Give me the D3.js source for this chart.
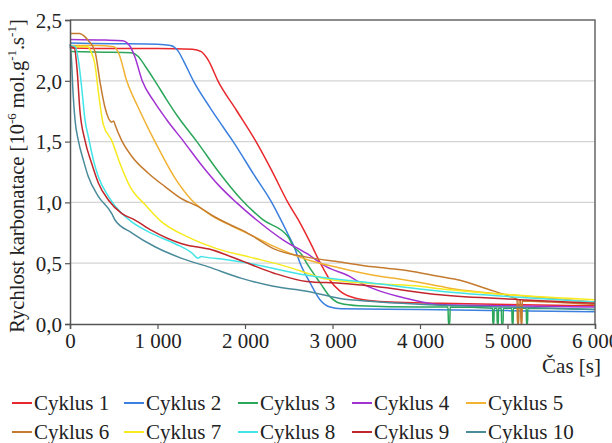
<!DOCTYPE html>
<html>
<head>
<meta charset="utf-8">
<script src="https://cdn.jsdelivr.net/npm/d3@7"></script>
<style>
  body { margin: 0; background: #fff; }
</style>
</head>
<body>
<div id="chart"></div>
<script>
// values: [time s, rate]
const cyklus1 = [[0,2.27],[500,2.265],[1000,2.265],[1400,2.26],[1500,2.24],[1580,2.17],[1690,2.0],[1900,1.76],[2126,1.5],[2300,1.27],[2490,1.0],[2630,0.83],[2780,0.62],[2840,0.53],[2900,0.45],[2971,0.36],[3086,0.27],[3276,0.21],[3657,0.18],[4229,0.17],[5000,0.16],[6000,0.15]];
const cyklus2 = [[0,2.31],[500,2.305],[1000,2.30],[1150,2.29],[1230,2.25],[1300,2.16],[1410,2.0],[1600,1.78],[1750,1.62],[1865,1.5],[2100,1.23],[2305,1.0],[2400,0.87],[2490,0.74],[2570,0.62],[2630,0.5],[2743,0.34],[2857,0.2],[2971,0.14],[3100,0.125],[4000,0.12],[5000,0.11],[6000,0.10]];
const cyklus3 = [[0,2.24],[400,2.235],[700,2.23],[780,2.2],[860,2.12],[970,2.0],[1100,1.85],[1238,1.7],[1450,1.5],[1700,1.25],[1950,1.03],[2200,0.86],[2490,0.72],[2552,0.64],[2648,0.57],[2705,0.5],[2857,0.34],[2971,0.225],[3086,0.17],[3300,0.15],[4000,0.14],[4320,0.14],[4325,0],[4340,0],[4345,0.14],[4830,0.13],[4832,0],[4845,0],[4847,0.13],[4880,0.13],[4882,0],[4895,0],[4897,0.13],[4930,0.13],[4932,0],[4950,0],[4952,0.13],[5050,0.13],[5052,0],[5065,0],[5067,0.13],[5215,0.13],[5217,0],[5230,0],[5232,0.13],[6000,0.12]];
const cyklus4 = [[0,2.34],[400,2.335],[600,2.33],[680,2.29],[740,2.2],[825,2.0],[960,1.83],[1105,1.68],[1300,1.5],[1500,1.31],[1700,1.14],[1900,1.0],[2133,0.855],[2438,0.69],[2705,0.58],[2933,0.47],[3200,0.39],[3314,0.34],[3543,0.27],[3848,0.21],[4229,0.16],[5000,0.15],[6000,0.14]];
const cyklus5 = [[0,2.29],[300,2.29],[500,2.28],[560,2.22],[648,2.0],[780,1.78],[914,1.58],[971,1.5],[1200,1.2],[1390,1.02],[1600,0.9],[1867,0.8],[2100,0.72],[2324,0.64],[2705,0.53],[3086,0.46],[3467,0.40],[3848,0.36],[4229,0.31],[4377,0.29],[5029,0.24],[5500,0.21],[6000,0.18]];
const cyklus6 = [[0,2.39],[110,2.39],[160,2.37],[210,2.33],[286,2.24],[343,1.99],[400,1.78],[476,1.66],[500,1.67],[514,1.64],[590,1.51],[705,1.38],[895,1.24],[1086,1.13],[1276,1.03],[1467,0.965],[1657,0.88],[1848,0.81],[2000,0.76],[2095,0.72],[2324,0.62],[2705,0.55],[3086,0.51],[3467,0.47],[3848,0.44],[4229,0.39],[4457,0.36],[4762,0.29],[5029,0.225],[5110,0.2],[5113,0],[5128,0],[5131,0.2],[5150,0.2],[5153,0],[5166,0],[5169,0.19],[5500,0.18],[6000,0.16]];
const cyklus7 = [[0,2.28],[200,2.28],[240,2.24],[286,2.13],[324,1.91],[381,1.64],[476,1.51],[571,1.32],[686,1.13],[860,0.98],[1048,0.84],[1333,0.72],[1676,0.62],[2057,0.55],[2438,0.48],[2743,0.41],[2895,0.375],[3500,0.33],[4000,0.31],[4229,0.29],[5029,0.24],[6000,0.20]];
const cyklus8 = [[0,2.29],[60,2.28],[100,2.15],[140,1.9],[171,1.68],[210,1.54],[267,1.35],[324,1.21],[438,1.05],[590,0.91],[705,0.84],[933,0.745],[1200,0.66],[1400,0.58],[1460,0.54],[1500,0.555],[1540,0.55],[1771,0.53],[1962,0.51],[2705,0.40],[3467,0.335],[4229,0.27],[5029,0.225],[6000,0.18]];
const cyklus9 = [[0,2.28],[50,2.27],[80,2.1],[114,1.75],[171,1.51],[248,1.32],[324,1.16],[438,1.02],[590,0.91],[743,0.855],[933,0.77],[1276,0.66],[1619,0.61],[1924,0.53],[2324,0.42],[2705,0.35],[3086,0.335],[3467,0.31],[4229,0.24],[5143,0.20],[6000,0.17]];
const cyklus10 = [[0,2.3],[15,2.2],[35,1.9],[57,1.68],[95,1.51],[152,1.35],[210,1.21],[324,1.05],[476,0.91],[514,0.855],[705,0.75],[971,0.635],[1276,0.54],[1581,0.47],[1962,0.375],[2324,0.31],[2705,0.27],[3086,0.21],[3467,0.185],[4229,0.155],[5000,0.14],[6000,0.12]];

const names = ["Cyklus 1","Cyklus 2","Cyklus 3","Cyklus 4","Cyklus 5","Cyklus 6","Cyklus 7","Cyklus 8","Cyklus 9","Cyklus 10"];
const colors = ["#e8282c","#3b7fdf","#2ba65a","#a232d2","#f2b233","#c47b2f","#f7ea1f","#42e4e8","#c0262b","#4a8b9b"];
const xTicks = [0,1000,2000,3000,4000,5000,6000];
const yTicks = [0,0.5,1.0,1.5,2.0,2.5];

const series = [cyklus1,cyklus2,cyklus3,cyklus4,cyklus5,cyklus6,cyklus7,cyklus8,cyklus9,cyklus10];

const serif = "'Liberation Serif', 'Times New Roman', Tinos, 'DejaVu Serif', serif";
const width = 612, height = 443;
const margin = { top: 20, right: 17, bottom: 119, left: 70 };
const innerW = width - margin.left - margin.right;
const innerH = height - margin.top - margin.bottom;

const svg = d3.select("#chart").append("svg")
    .attr("width", width)
    .attr("height", height)
    .attr("font-family", serif);

const g = svg.append("g")
    .attr("transform", `translate(${margin.left},${margin.top})`);

const x = d3.scaleLinear().domain([0, 6000]).range([0, innerW]);
const y = d3.scaleLinear().domain([0, 2.5]).range([innerH, 0]);

const fmtY = d => d3.format(".1f")(d).replace(".", ",");
const fmtX = d => d3.format(",")(d).replace(",", " ");

// grid
g.append("g")
  .selectAll("line")
  .data(yTicks.filter(d => d > 0 && d < 2.5))
  .join("line")
    .attr("x1", 0).attr("x2", innerW)
    .attr("y1", d => y(d)).attr("y2", d => y(d))
    .style("stroke", "#d4d4d4")
    .style("stroke-width", "1.2px");

// lines
const line = d3.line()
    .x(d => x(d[0]))
    .y(d => y(d[1]))
    .curve(d3.curveMonotoneX);

g.append("g")
  .selectAll("path")
  .data(series)
  .join("path")
    .attr("d", line)
    .style("fill", "none")
    .style("stroke", (d, i) => colors[i])
    .style("stroke-width", "1.5px")
    .style("stroke-linejoin", "round");

// frame top and right
g.append("path")
  .attr("d", `M0,0H${innerW}V${innerH}`)
  .style("fill", "none")
  .style("stroke", "#666")
  .style("stroke-width", "1.5px");

// axes
const yAxis = d3.axisLeft(y).tickValues(yTicks).tickFormat(fmtY).tickSize(5).tickPadding(3);
const xAxis = d3.axisBottom(x).tickValues(xTicks).tickFormat(fmtX).tickSize(5).tickPadding(3);

const ya = g.append("g").call(yAxis);
const xa = g.append("g").attr("transform", `translate(0,${innerH})`).call(xAxis);

[ya, xa].forEach(a => {
  a.attr("font-family", serif).attr("font-size", 21);
  a.select(".domain").style("stroke", "#555").style("stroke-width", "1.5px");
  a.selectAll(".tick line").style("stroke", "#555").style("stroke-width", "1.2px");
  a.selectAll(".tick text").style("fill", "#222");
});
ya.selectAll(".tick text").attr("dy", "0.35em");
xa.selectAll(".tick text").attr("dy", "0.75em");

// y title
const yt = svg.append("text")
    .attr("transform", "translate(24,176) rotate(-90)")
    .attr("text-anchor", "middle")
    .attr("font-size", 20.5)
    .style("fill", "#222");
yt.append("tspan").text("Rychlost karbonatace [10");
yt.append("tspan").attr("dy", -8).attr("font-size", 13).text("-6");
yt.append("tspan").attr("dy", 8).text(" mol.g");
yt.append("tspan").attr("dy", -8).attr("font-size", 13).text("-1");
yt.append("tspan").attr("dy", 8).text(".s");
yt.append("tspan").attr("dy", -8).attr("font-size", 13).text("-1");
yt.append("tspan").attr("dy", 8).text("]");

// x title
svg.append("text")
    .attr("x", 601)
    .attr("y", 373)
    .attr("text-anchor", "end")
    .attr("font-size", 21)
    .style("fill", "#222")
    .text("Čas [s]");

// legend
const legX = [12, 124, 238, 352, 466];
const legY = [403, 432];
const leg = svg.append("g")
  .selectAll("g")
  .data(names)
  .join("g")
    .attr("transform", (d, i) => `translate(${legX[i % 5]},${legY[Math.floor(i / 5)]})`);

leg.append("line")
    .attr("x1", 0).attr("x2", 20)
    .attr("y1", 0).attr("y2", 0)
    .style("stroke", (d, i) => colors[i])
    .style("stroke-width", "2px");

leg.append("text")
    .attr("x", 22)
    .attr("dy", "0.33em")
    .attr("font-size", 21)
    .style("fill", "#222")
    .text(d => d);
</script>
</body>
</html>
